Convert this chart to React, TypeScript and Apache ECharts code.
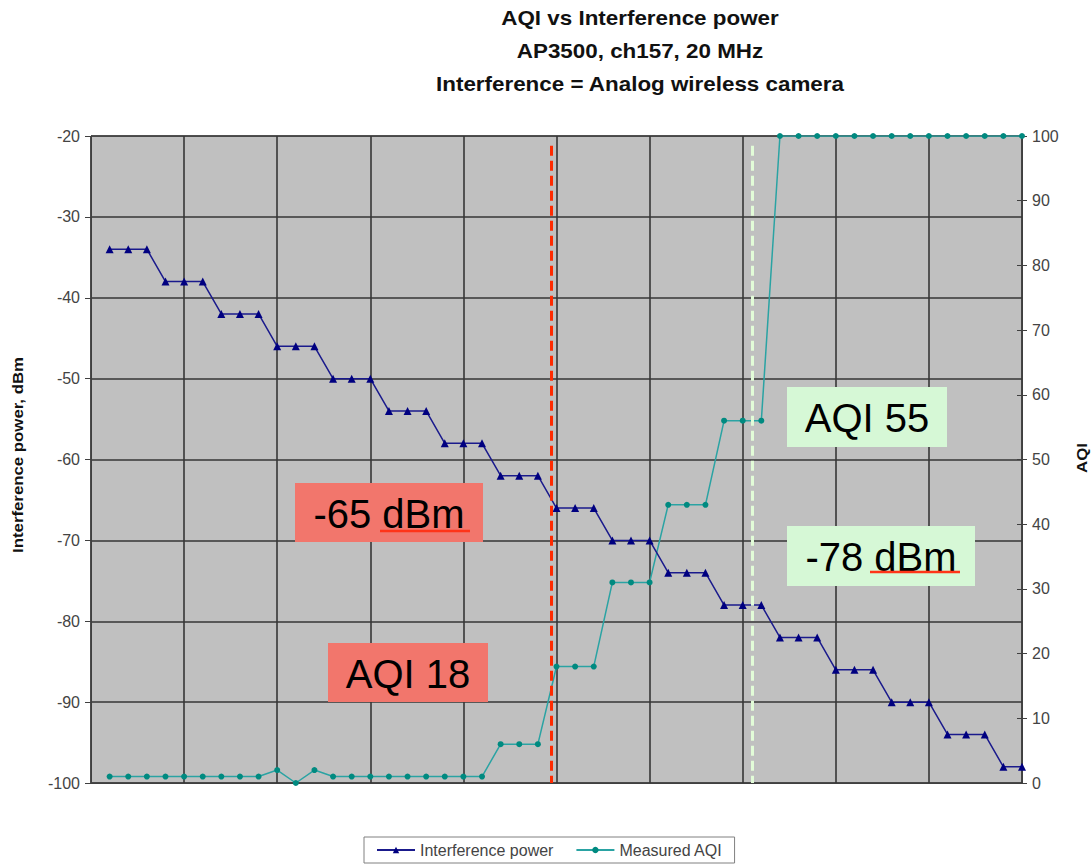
import React, { useEffect, useRef } from "react";
import * as echarts from "echarts";

const titleLines = [
  "AQI vs Interference power",
  "AP3500, ch157, 20 MHz",
  "Interference = Analog wireless camera",
];

// Interference power (dBm), 50 samples
const interferencePower = [
  -34, -34, -34, -38, -38, -38, -42, -42, -42, -46, -46, -46, -50, -50, -50,
  -54, -54, -54, -58, -58, -58, -62, -62, -62, -66, -66, -66, -70, -70, -70,
  -74, -74, -74, -78, -78, -78, -82, -82, -82, -86, -86, -86, -90, -90, -90,
  -94, -94, -94, -98, -98,
];

// Measured AQI, 50 samples
const measuredAQI = [
  1, 1, 1, 1, 1, 1, 1, 1, 1, 2, 0, 2, 1, 1, 1, 1, 1, 1, 1, 1, 1, 6, 6, 6, 18,
  18, 18, 31, 31, 31, 43, 43, 43, 56, 56, 56, 100, 100, 100, 100, 100, 100, 100,
  100, 100, 100, 100, 100, 100, 100,
];

// reference thresholds (sample position)
const redThreshold = 24.7;
const greenThreshold = 35.5;

const seriesNames = ["Interference power", "Measured AQI"];
const leftAxisTitle = "Interference power, dBm";
const rightAxisTitle = "AQI";

const annotations = [
  { text: "-65 dBm", fill: "#f2766c", x: 295, y: 483, w: 188, h: 59, ul: [380, 531, 470] },
  { text: "AQI 18", fill: "#f2766c", x: 328, y: 643, w: 160, h: 59, ul: null },
  { text: "AQI 55", fill: "#d6f8d6", x: 787, y: 387, w: 160, h: 60, ul: null },
  { text: "-78 dBm", fill: "#d6f8d6", x: 787, y: 526, w: 188, h: 60, ul: [870, 572, 960] },
];

export default function App() {
  const ref = useRef<HTMLDivElement>(null);
  useEffect(() => {
    if (!ref.current) return;
    const chart = echarts.init(ref.current, null, { renderer: "svg" });
    const idx = interferencePower.map((_, i) => i + 1);
    const font = "Liberation Sans, Arial, sans-serif";

    const graphics: any[] = [];
    titleLines.forEach((t, i) => {
      graphics.push({
        type: "text",
        x: 640,
        y: 18 + i * 33,
        scaleX: 1.12,
        style: {
          text: t,
          fill: "#111",
          font: `bold 20px ${font}`,
          textAlign: "center",
          textVerticalAlign: "middle",
        },
        z: 10,
      });
    });
    annotations.forEach((a) => {
      graphics.push({
        type: "rect",
        shape: { x: a.x, y: a.y, width: a.w, height: a.h },
        style: { fill: a.fill },
        z: 5,
      });
      graphics.push({
        type: "text",
        x: a.x + a.w / 2,
        y: a.y + a.h / 2 + 1,
        style: {
          text: a.text,
          fill: "#000",
          font: `40px ${font}`,
          textAlign: "center",
          textVerticalAlign: "middle",
        },
        z: 6,
      });
      if (a.ul) {
        graphics.push({
          type: "line",
          shape: { x1: a.ul[0], y1: a.ul[1], x2: a.ul[2], y2: a.ul[1] },
          style: { stroke: "#ff3418", lineWidth: 2.5 },
          z: 7,
        });
      }
    });
    graphics.push({
      type: "text",
      x: 18,
      y: 455,
      rotation: Math.PI / 2,
      scaleX: 1.2,
      style: {
        text: leftAxisTitle,
        fill: "#111",
        font: `bold 14px ${font}`,
        textAlign: "center",
        textVerticalAlign: "middle",
      },
    });
    graphics.push({
      type: "text",
      x: 1082,
      y: 458,
      rotation: Math.PI / 2,
      scaleX: 1.2,
      style: {
        text: rightAxisTitle,
        fill: "#111",
        font: `bold 14px ${font}`,
        textAlign: "center",
        textVerticalAlign: "middle",
      },
    });

    chart.setOption({
      animation: false,
      backgroundColor: "#ffffff",
      textStyle: { fontFamily: font },
      grid: {
        left: 91,
        top: 136,
        right: 70,
        bottom: 83,
        show: true,
        backgroundColor: "#c0c0c0",
        borderColor: "#404040",
        borderWidth: 1,
      },
      legend: {
        data: seriesNames,
        left: 364,
        top: 837,
        padding: [5, 12, 5, 12],
        itemGap: 22,
        itemWidth: 38,
        itemHeight: 8,
        borderColor: "#808080",
        borderWidth: 1,
        textStyle: { color: "#444", fontSize: 16, fontFamily: font },
      },
      xAxis: {
        type: "value",
        min: 0,
        max: 50,
        interval: 5,
        axisLabel: { show: false },
        axisTick: { show: false },
        axisLine: { show: true, lineStyle: { color: "#404040" } },
        splitLine: { show: true, lineStyle: { color: "#363636", width: 1.6 } },
      },
      yAxis: [
        {
          type: "value",
          min: -100,
          max: -20,
          interval: 10,
          position: "left",
          axisLine: { show: true, lineStyle: { color: "#404040" } },
          axisTick: { show: true, length: 6, lineStyle: { color: "#404040" } },
          axisLabel: { color: "#444", fontSize: 16, margin: 11 },
          splitLine: { show: true, lineStyle: { color: "#363636", width: 1.6 } },
        },
        {
          type: "value",
          min: 0,
          max: 100,
          interval: 10,
          position: "right",
          axisLine: { show: true, lineStyle: { color: "#404040" } },
          axisTick: { show: true, length: 5, lineStyle: { color: "#404040" } },
          axisLabel: { color: "#444", fontSize: 16, margin: 10 },
          splitLine: { show: false },
        },
        {
          type: "value",
          min: 0,
          max: 100,
          interval: 10,
          position: "right",
          axisLine: { show: false },
          axisTick: { show: true, inside: true, length: 5, lineStyle: { color: "#404040" } },
          axisLabel: { show: false },
          splitLine: { show: false },
        },
      ],
      series: [
        {
          name: seriesNames[0],
          type: "line",
          yAxisIndex: 0,
          data: idx.map((x, i) => [x, interferencePower[i]]),
          symbol: "triangle",
          symbolSize: 8,
          lineStyle: { color: "#1a1a8c", width: 1.5 },
          itemStyle: { color: "#000080" },
          z: 4,
          markLine: {
            silent: true,
            symbol: "none",
            label: { show: false },
            data: [
              [
                { coord: [redThreshold, -21.2] },
                { coord: [redThreshold, -100] },
              ],
            ],
            lineStyle: { color: "#ff2a00", width: 3, type: [10, 5] },
          },
        },
        {
          name: seriesNames[1],
          type: "line",
          yAxisIndex: 1,
          data: idx.map((x, i) => [x, measuredAQI[i]]),
          symbol: "circle",
          symbolSize: 6,
          lineStyle: { color: "#2aa3a3", width: 1.5 },
          itemStyle: { color: "#008a80" },
          z: 3,
          markLine: {
            silent: true,
            symbol: "none",
            label: { show: false },
            data: [
              [
                { coord: [greenThreshold, 98.5] },
                { coord: [greenThreshold, 0] },
              ],
            ],
            lineStyle: { color: "#e2fcd8", width: 3, type: [10, 5] },
          },
        },
      ],
      graphic: graphics,
    });
    return () => chart.dispose();
  }, []);
  return (
    <div
      ref={ref}
      style={{ position: "absolute", left: 0, top: 0, width: 1092, height: 866 }}
    />
  );
}
